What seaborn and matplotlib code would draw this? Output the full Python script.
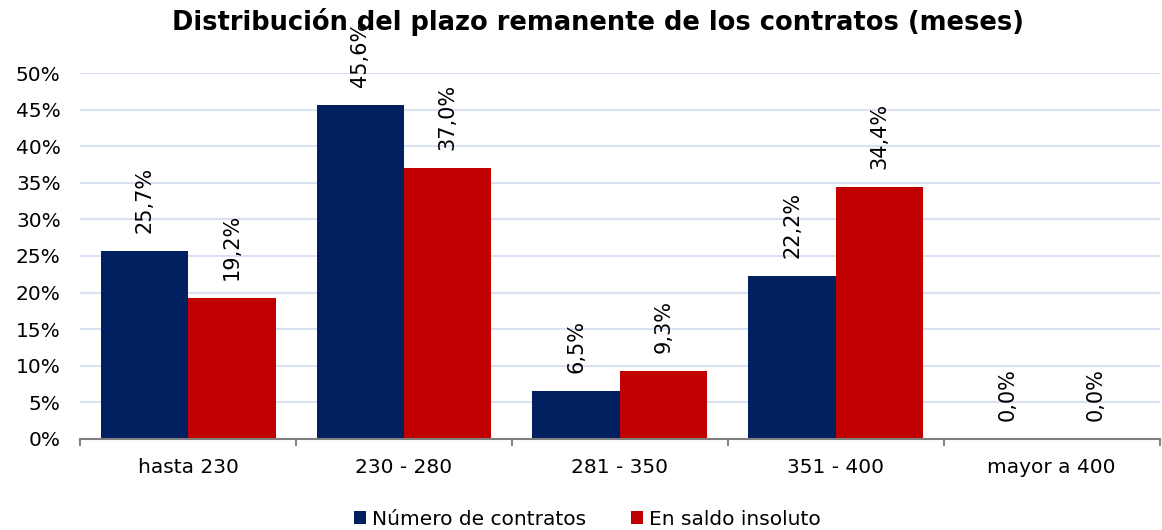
import pandas as pd
import numpy as np
import matplotlib.pyplot as plt
import seaborn as sns

categorias = ['hasta 230', '230 - 280', '281 - 350', '351 - 400', 'mayor a 400']
num_contratos = [25.7, 45.6, 6.5, 22.2, 0.0]
saldo_insoluto = [19.2, 37.0, 9.3, 34.4, 0.0]
series = ['Número de contratos', 'En saldo insoluto']

df = pd.DataFrame({
    'cat': categorias * 2,
    'serie': [series[0]] * 5 + [series[1]] * 5,
    'valor': [v / 100 for v in num_contratos + saldo_insoluto],
})

sns.set_style('white')
plt.rcParams['font.family'] = ['DejaVu Sans']
plt.rcParams['text.color'] = 'black'
plt.rcParams['xtick.color'] = 'black'
plt.rcParams['ytick.color'] = 'black'

fig = plt.figure(figsize=(11.62, 5.30), dpi=100)
ax = fig.add_axes([0.069, 0.172, 0.929, 0.69])

sns.barplot(data=df, x='cat', y='valor', hue='serie', order=categorias,
            hue_order=series, palette=['#002060', '#C00000'], width=0.81,
            saturation=1, linewidth=0, ax=ax, zorder=2)

for cont in ax.containers:
    for bar in cont:
        h = bar.get_height()
        ax.annotate(f'{h*100:.1f}%'.replace('.', ','),
                    (bar.get_x() + bar.get_width() / 2, h),
                    xytext=(0, 13), textcoords='offset points',
                    rotation=90, ha='center', va='bottom', fontsize=15,
                    annotation_clip=False)

ax.set_ylim(0, 0.5)
ax.set_xlim(-0.5, 4.5)
ax.set_yticks(np.arange(0, 0.51, 0.05))
ax.set_yticklabels([f'{int(round(t*100))}%' for t in np.arange(0, 0.51, 0.05)], fontsize=14.5)
ax.tick_params(axis='y', length=0, pad=14)
ax.tick_params(axis='x', which='major', length=0, labelsize=14.5, pad=14)
ax.set_xticks(np.arange(-0.5, 4.6, 1), minor=True)
ax.tick_params(axis='x', which='minor', bottom=True, length=5, color='#808080', width=1.5)
ax.grid(axis='y', color='#D9E1F2', linewidth=1.5, zorder=0)
ax.set_axisbelow(True)
for s in ['top', 'right', 'left']:
    ax.spines[s].set_visible(False)
ax.spines['bottom'].set_color('#808080')
ax.spines['bottom'].set_linewidth(1.5)
ax.set_xlabel('')
ax.set_ylabel('')

fig.suptitle('Distribución del plazo remanente de los contratos (meses)',
             fontsize=18.5, fontweight='bold', x=0.515, y=0.985)

ax.legend(loc='upper center', bbox_to_anchor=(0.47, -0.145), ncol=2, frameon=False,
          fontsize=14.5, handlelength=0.6, handleheight=0.6, handletextpad=0.3,
          columnspacing=2.2)

fig.savefig('out.png', dpi=100)
